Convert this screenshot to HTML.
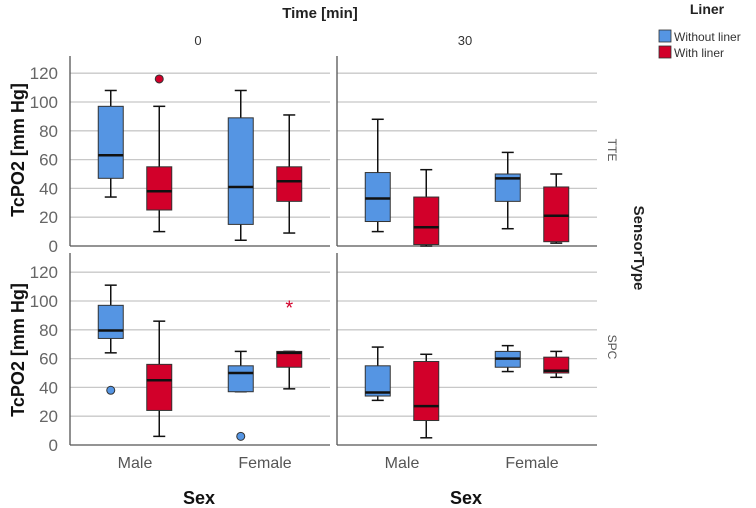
<!DOCTYPE html>
<html><head><meta charset="utf-8"><style>
body{margin:0;background:#fff;width:756px;height:508px;overflow:hidden;font-family:"Liberation Sans",sans-serif}
svg{display:block}
</style></head><body>
<svg id="chart" width="756" height="508" viewBox="0 0 756 508" xmlns="http://www.w3.org/2000/svg">
<g id="static">
<text x="320" y="18" font-size="15" font-weight="bold" text-anchor="middle" fill="#222">Time [min]</text>
<text x="198" y="45" font-size="13" text-anchor="middle" fill="#333">0</text>
<text x="465" y="45" font-size="13" text-anchor="middle" fill="#333">30</text>
<text x="707" y="14" font-size="14" font-weight="bold" text-anchor="middle" fill="#222">Liner</text>
<g><rect x="659" y="30" width="12" height="12" fill="#5595e3" stroke="#333" stroke-width="0.8"/><text x="674" y="41" font-size="12" fill="#333">Without liner</text></g>
<g><rect x="659" y="46" width="12" height="12" fill="#d2002a" stroke="#333" stroke-width="0.8"/><text x="674" y="57" font-size="12" fill="#333">With liner</text></g>
<text transform="translate(608,150) rotate(90)" font-size="12" text-anchor="middle" fill="#555">TTE</text>
<text transform="translate(608,347) rotate(90)" font-size="12" text-anchor="middle" fill="#555">SPC</text>
<text transform="translate(634,248) rotate(90)" font-size="15" font-weight="bold" text-anchor="middle" fill="#222">SensorType</text>
<text transform="translate(24,150) rotate(-90)" font-size="18" font-weight="bold" text-anchor="middle" fill="#111">TcPO2 [mm Hg]</text>
<text transform="translate(24,350) rotate(-90)" font-size="18" font-weight="bold" text-anchor="middle" fill="#111">TcPO2 [mm Hg]</text>
<text x="199" y="504" font-size="18" font-weight="bold" text-anchor="middle" fill="#111">Sex</text>
<text x="466" y="504" font-size="18" font-weight="bold" text-anchor="middle" fill="#111">Sex</text>
</g>
<g id="plots"></g>
</svg>
<script>
const categories = ["Male","Female"];
const series = ["Without liner","With liner"];
const yTicks = [0,20,40,60,80,100,120];
// each box: [low, q1, median, q3, high]
const t0_tte_without = [[34,47,63,97,108],[4,15,41,89,108]];
const t0_tte_with = [[10,25,38,55,97],[9,31,45,55,91]];
const t30_tte_without = [[10,17,33,51,88],[12,31,47,50,65]];
const t30_tte_with = [[0,1,13,34,53],[2,3,21,41,50]];
const t0_spc_without = [[64,74,79.5,97,111],[37,37,50,55,65]];
const t0_spc_with = [[6,24,45,56,86],[39,54,64,65,65]];
const t30_spc_without = [[31,34,36.5,55,68],[51,54,60,65,69]];
const t30_spc_with = [[5,17,27,58,63],[47,50,51.6,61,65]];
// outliers: [categoryIndex, seriesIndex, value, type]
const t0_tte_outliers = [[0,1,116,"o"]];
const t0_spc_outliers = [[0,0,38,"o"],[1,0,6,"o"],[1,1,97,"*"]];

const NS="http://www.w3.org/2000/svg";
const plots=document.getElementById('plots');
const colors=["#5595e3","#d2002a"];
const panels=[
 {x0:70,x1:330,y0:246,yTop:56,data:[t0_tte_without,t0_tte_with],out:t0_tte_outliers,ticks:true,xl:false,name:"t0-tte"},
 {x0:337,x1:597,y0:246,yTop:56,data:[t30_tte_without,t30_tte_with],out:[],ticks:false,xl:false,name:"t30-tte"},
 {x0:70,x1:330,y0:445,yTop:253,data:[t0_spc_without,t0_spc_with],out:t0_spc_outliers,ticks:true,xl:true,name:"t0-spc"},
 {x0:337,x1:597,y0:445,yTop:253,data:[t30_spc_without,t30_spc_with],out:[],ticks:false,xl:true,name:"t30-spc"}
];
function mk(tag,attrs,parent){const e=document.createElementNS(NS,tag);for(const k in attrs)e.setAttribute(k,attrs[k]);(parent||plots).appendChild(e);return e;}
panels.forEach(p=>{
 const y=v=>p.y0-v*1.44;
 const band=(p.x1-p.x0)/categories.length;
 const x=(ci,si)=>p.x0+band*ci+band*0.5+(si-0.5)*48.5;
 const g=mk('g',{});
 
 
 yTicks.forEach(t=>{
  if(t>0){const l=mk('line',{x1:p.x0,x2:p.x1,y1:y(t),y2:y(t),stroke:'#c8c8c8','stroke-width':1.3},g);
   }
  if(p.ticks){const tx=mk('text',{x:p.x0-12,y:y(t)+6,'font-size':17,'text-anchor':'end',fill:'#666'},g);tx.textContent=t;
   }
 });
 mk('line',{x1:p.x0,x2:p.x0,y1:p.yTop,y2:p.y0,stroke:'#555','stroke-width':1.3},g);
 mk('line',{x1:p.x0,x2:p.x1,y1:p.y0,y2:p.y0,stroke:'#555','stroke-width':1.3},g);
 if(p.xl){categories.forEach((c,ci)=>{const tx=mk('text',{x:p.x0+band*ci+band/2,y:468,'font-size':16,'text-anchor':'middle',fill:'#555'},g);tx.textContent=c;
  });}
 p.data.forEach((arr,si)=>{arr.forEach((b,ci)=>{
  const cx=x(ci,si),w=25;
  const bg=mk('g',{},g);
  
  
  mk('line',{x1:cx,x2:cx,y1:y(b[0]),y2:y(b[4]),stroke:'#111','stroke-width':1.5},bg);
  mk('line',{x1:cx-6,x2:cx+6,y1:y(b[0]),y2:y(b[0]),stroke:'#111','stroke-width':1.5},bg);
  mk('line',{x1:cx-6,x2:cx+6,y1:y(b[4]),y2:y(b[4]),stroke:'#111','stroke-width':1.5},bg);
  mk('rect',{x:cx-w/2,y:y(b[3]),width:w,height:Math.max(1,y(b[1])-y(b[3])),fill:colors[si],stroke:'#333','stroke-width':1},bg);
  mk('line',{x1:cx-w/2,x2:cx+w/2,y1:y(b[2]),y2:y(b[2]),stroke:'#111','stroke-width':2.5},bg);
 });});
 p.out.forEach(o=>{
  const cx=x(o[0],o[1]);
  if(o[3]==="o"){const c=mk('circle',{cx:cx,cy:y(o[2]),r:4,fill:colors[o[1]],stroke:'#333','stroke-width':1},g);
   }
  else{const t=mk('text',{x:cx,y:y(o[2])+9,'font-size':20,'text-anchor':'middle',fill:colors[o[1]]},g);t.textContent='*';
   }
 });
});
</script>
</body></html>
